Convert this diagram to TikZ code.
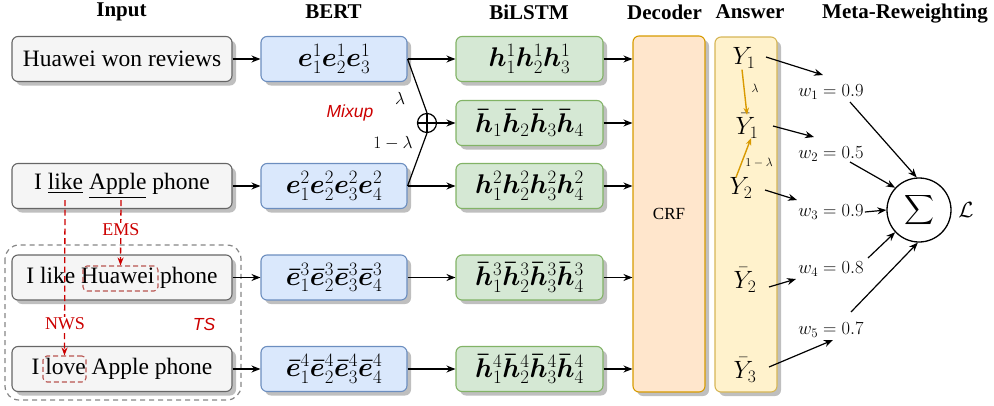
\RequirePackage{fix-cm}
\documentclass[tikz,border=0pt]{standalone}
\usepackage{amsmath,bm}
\usepackage[no-math]{fontspec}
\setmainfont{Liberation Serif}
\newfontfamily\arialfont{Liberation Sans}
\usetikzlibrary{shadows,arrows.meta,calc}
\definecolor{inF}{HTML}{F5F5F5}\definecolor{inB}{HTML}{666666}
\definecolor{bF}{HTML}{DAE8FC}\definecolor{bB}{HTML}{6C8EBF}
\definecolor{lF}{HTML}{D5E8D4}\definecolor{lB}{HTML}{82B366}
\definecolor{decF}{HTML}{FFE6CC}\definecolor{decB}{HTML}{D79B00}
\definecolor{ansF}{HTML}{FFF2CC}\definecolor{ansB}{HTML}{D6B656}
\definecolor{redT}{HTML}{CC0000}\definecolor{redBox}{HTML}{B85450}
\definecolor{orgA}{HTML}{D99A00}
\begin{document}
\begin{tikzpicture}[x=1pt,y=-1pt,
  hdr/.style={font=\fontsize{21}{25}\selectfont\bfseries, inner sep=0pt},
  box/.style={rounded corners=6pt, line width=1.1pt, inner sep=0pt,
    drop shadow={shadow xshift=4pt, shadow yshift=-4pt, fill=black!25, opacity=1}},
  inbox/.style={box, draw=inB, fill=inF, minimum width=220pt, minimum height=45pt, font=\fontsize{23.5}{28}\selectfont},
  bbox/.style={box, draw=bB, fill=bF, minimum width=146pt, minimum height=45pt, font=\fontsize{27}{30}\selectfont},
  lbox/.style={box, draw=lB, fill=lF, minimum width=147pt, minimum height=45pt, font=\fontsize{27}{30}\selectfont},
  arr/.style={line width=1.2pt, -{Stealth[length=9pt,width=7pt]}},
  plain/.style={line width=1.2pt},
  redarr/.style={draw=redT, line width=1.3pt, dash pattern=on 6pt off 3.5pt, -{Stealth[length=8pt,width=6pt]}},
  redlab/.style={text=redT, fill=white, inner sep=1pt, font=\fontsize{18}{22}\selectfont},
  redbox/.style={draw=redBox, line width=1.1pt, dash pattern=on 5pt off 3pt, rounded corners=4pt, inner sep=0pt},
  sanslab/.style={text=redT, font=\arialfont\itshape\fontsize{17.5}{21}\selectfont},
  ansl/.style={font=\fontsize{25}{28}\selectfont, inner sep=1pt},
  wl/.style={font=\fontsize{18.5}{22}\selectfont, inner sep=1pt},
  oarr/.style={draw=orgA, line width=1.4pt, -{Stealth[length=7pt,width=5.5pt]}},
  olab/.style={font=\fontsize{12}{14}\selectfont, inner sep=0pt}
]
\useasboundingbox (0,0) rectangle (994,405);

% headers
\node[hdr] (hIn) at (121.5,12) {Input};
\node[hdr] (hBe) at (333.5,12) {BERT};
\node[hdr] (hBi) at (529,12) {BiLSTM};
\node[hdr] (hDe) at (664.5,12) {Decoder};
\node[hdr] (hAn) at (750,12) {Answer};
\node[hdr] (hMe) at (905,14) {Meta-Reweighting};

% TS group
\draw[draw=inB!80, line width=1.2pt, dash pattern=on 5pt off 4pt, rounded corners=14pt] (5,245) rectangle (241,400);
\node[sanslab] (ts) at (204,324) {TS};

% input boxes
\node[inbox] (i1) at (122,59) {Huawei won reviews};
\node[inbox] (i2) at (122,186) {I \underline{like} \underline{Apple} phone};
\node[inbox] (i3) at (122,277.5) {I like Huawei phone};
\node[inbox] (i4) at (122,369) {I love Apple phone};

% BERT boxes
\node[bbox] (b1) at (334,59) {$\bm{e}_1^1\bm{e}_2^1\bm{e}_3^1$};
\node[bbox] (b2) at (334,186) {$\bm{e}_1^2\bm{e}_2^2\bm{e}_3^2\bm{e}_4^2$};
\node[bbox] (b3) at (334,277.5) {$\bm{\bar e}_1^3\bm{\bar e}_2^3\bm{\bar e}_3^3\bm{\bar e}_4^3$};
\node[bbox] (b4) at (334,369) {$\bm{\bar e}_1^4\bm{\bar e}_2^4\bm{\bar e}_3^4\bm{\bar e}_4^4$};

% BiLSTM boxes
\node[lbox] (l1) at (529.5,59) {$\bm{h}_1^1\bm{h}_2^1\bm{h}_3^1$};
\node[lbox] (lm) at (529.5,123) {$\bm{\bar h}_1\bm{\bar h}_2\bm{\bar h}_3\bm{\bar h}_4$};
\node[lbox] (l2) at (529.5,186) {$\bm{h}_1^2\bm{h}_2^2\bm{h}_3^2\bm{h}_4^2$};
\node[lbox] (l3) at (529.5,277.5) {$\bm{\bar h}_1^3\bm{\bar h}_2^3\bm{\bar h}_3^3\bm{\bar h}_4^3$};
\node[lbox] (l4) at (529.5,369) {$\bm{\bar h}_1^4\bm{\bar h}_2^4\bm{\bar h}_3^4\bm{\bar h}_4^4$};

% decoder and answer
\node[box, draw=decB, fill=decF, minimum width=72pt, minimum height=356pt, font=\fontsize{17}{20}\selectfont] (dec) at (669,214) {CRF};
\node[box, draw=ansB, fill=ansF, minimum width=62pt, minimum height=355pt] (ans) at (746,214.5) {};

% arrows input -> BERT -> BiLSTM
\foreach \k in {1,2,3,4} { \draw[arr] (i\k.east) -- (b\k.west); }
\draw[arr] (b1.east) -- (l1.west);
\draw[arr] (b2.east) -- (l2.west);
\draw[arr] (b3.east) -- (l3.west);
\draw[arr] (b4.east) -- (l4.west);

% mixup
\node[circle, draw, line width=1.2pt, minimum size=19pt, inner sep=0pt] (plus) at (427,123) {};
\draw[plain] (plus.north) -- (plus.south) (plus.west) -- (plus.east);
\draw[plain] (b1.east) -- (plus.north);
\draw[plain] (b2.east) -- (plus.south);
\draw[arr] (plus.east) -- (lm.west);
\node[font=\fontsize{17.5}{21}\selectfont, inner sep=0pt] (lam) at (400,98) {$\lambda$};
\node[font=\fontsize{17.5}{21}\selectfont, inner sep=0pt] (olam) at (393,143) {$1-\lambda$};
\node[sanslab] (mix) at (350,113) {Mixup};

% BiLSTM -> decoder
\foreach \k in {1,m,2,3,4} { \draw[arr] (l\k.east) -- (l\k.east -| dec.west); }

% red augmentations
\coordinate (likeU) at (65,200);
\coordinate (appleU) at (121,200);
\node[redbox, minimum width=75pt, minimum height=25pt] (hw) at (120.5,278.5) {};
\node[redbox, minimum width=43pt, minimum height=26pt] (lv) at (64.5,369) {};
\draw[redarr] (likeU) -- (lv.north);
\draw[redarr] (appleU) -- (hw.north);
\node[redlab] (nws) at (65,324) {NWS};
\node[redlab] (ems) at (121,230) {EMS};

% answer labels
\node[ansl] (Y1) at (744,58) {$Y_1$};
\node[ansl] (Yb1) at (747,126) {$\bar{Y}_1$};
\node[ansl] (Y2) at (741,188) {$Y_2$};
\node[ansl] (Yb2) at (745,280) {$\bar{Y}_2$};
\node[ansl] (Yb3) at (745,370) {$\bar{Y}_3$};
\draw[oarr] ($(Y1.south)+(-2,0)$) -- ($(Yb1.north)+(0,2)$);
\draw[oarr] ($(Y2.north)+(-5,1)$) -- ($(Yb1.south)+(4,-1)$);
\node[olab] (ol1) at (755,88) {$\lambda$};
\node[olab] (ol2) at (759,163) {$1-\lambda$};

% weights
\node[wl] (w1) at (831,92) {$w_1=0.9$};
\node[wl] (w2) at (831,154) {$w_2=0.5$};
\node[wl] (w3) at (831,212) {$w_3=0.9$};
\node[wl] (w4) at (831,269) {$w_4=0.8$};
\node[wl] (w5) at (831,330) {$w_5=0.7$};

\draw[arr] ($(Y1)+(22,-1)$) -- ($(w1)+(-8,-17)$);
\draw[arr] ($(Yb1)+(26,0)$) -- ($(w2)+(-17,-17)$);
\draw[arr] ($(Y2)+(24,2)$) -- ($(w3)+(-34,-12)$);
\draw[arr] ($(Yb2)+(24,7)$) -- ($(w4)+(-35,10)$);
\draw[arr] ($(Yb3)+(24,-3)$) -- ($(w5)+(2,10)$);

% sum
\node[circle, draw, line width=1.3pt, minimum size=64pt, inner sep=0pt, font=\fontsize{22}{26}\selectfont] (sum) at (919,210) {$\displaystyle\sum$};
\node[font=\fontsize{22}{26}\selectfont, inner sep=0pt] (L) at (966,210) {$\mathcal{L}$};
\draw[arr] ($(w1)+(19,10)$) -- (sum.94);
\draw[arr] ($(w2)+(19,8)$) -- (sum.137);
\draw[arr] (w3.east) -- (sum.west);
\draw[arr] ($(w4)+(37,-11)$) -- (sum.223);
\draw[arr] ($(w5)+(20,-18)$) -- (sum.268);
\end{tikzpicture}
\end{document}
